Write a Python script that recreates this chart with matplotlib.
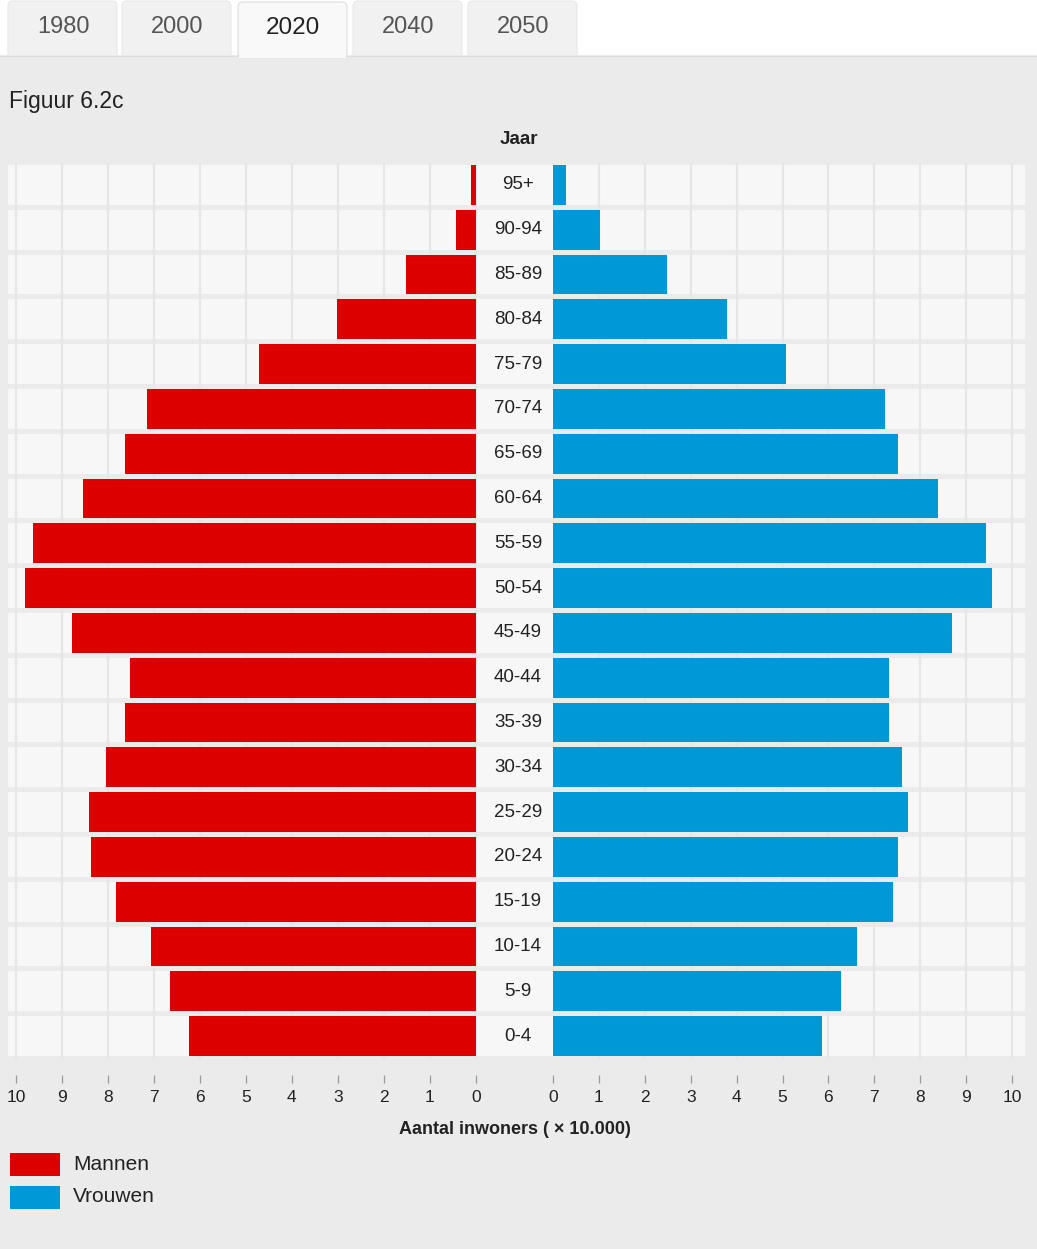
import matplotlib
matplotlib.use("Agg")
import matplotlib.pyplot as plt
from matplotlib.patches import Rectangle, FancyBboxPatch

plt.rcParams['font.family'] = ['Liberation Sans', 'DejaVu Sans']

# ---------------- data ----------------
age_groups = ["0-4", "5-9", "10-14", "15-19", "20-24", "25-29", "30-34", "35-39",
              "40-44", "45-49", "50-54", "55-59", "60-64", "65-69", "70-74",
              "75-79", "80-84", "85-89", "90-94", "95+"]
mannen = [6.24, 6.65, 7.07, 7.83, 8.37, 8.41, 8.04, 7.63, 7.52, 8.78,
          9.80, 9.63, 8.54, 7.63, 7.15, 4.72, 3.02, 1.52, 0.43, 0.10]
vrouwen = [5.86, 6.27, 6.62, 7.41, 7.52, 7.73, 7.60, 7.32, 7.32, 8.69,
           9.56, 9.43, 8.39, 7.52, 7.23, 5.08, 3.79, 2.48, 1.02, 0.28]
ticks = list(range(0, 11))
tabs = ["1980", "2000", "2020", "2040", "2050"]
active_tab = "2020"

# ---------------- style ----------------
W, H = 1037, 1249
BG = '#ebebeb'
BAND = '#f7f7f7'
GRID = '#e6e6e6'
RED = '#dd0000'
BLUE = '#0098d6'

fig = plt.figure(figsize=(W / 100, H / 100), dpi=100, facecolor=BG)


def px_axes(x0, y0, x1, y1, **kw):
    return fig.add_axes([x0 / W, 1 - y1 / H, (x1 - x0) / W, (y1 - y0) / H], **kw)


# overlay for page decorations (pixel coordinates)
ov = px_axes(0, 0, W, H, zorder=0)
ov.set_xlim(0, W)
ov.set_ylim(H, 0)
ov.axis('off')
ov.add_patch(Rectangle((0, 0), W, 55, facecolor='white', edgecolor='none', zorder=1))
tab_x = [8, 122, 238, 353, 468]
tab_w = 109
for name, x in zip(tabs, tab_x):
    if name == active_tab:
        continue
    ov.add_patch(FancyBboxPatch((x, 1), tab_w, 60, boxstyle="round,pad=0,rounding_size=5",
                                facecolor='#f1f1f1', edgecolor='#e9e9e9', lw=0.8, zorder=2))
    ov.text(x + tab_w / 2 + 1, 27, name, ha='center', va='center', fontsize=17,
            color='#555555', zorder=5)
ov.add_patch(Rectangle((0, 55), W, H - 55, facecolor=BG, edgecolor='none', zorder=3))
ov.plot([0, W], [55.5, 55.5], color='#dcdcdc', lw=0.8, zorder=3.5)
for name, x in zip(tabs, tab_x):
    if name != active_tab:
        continue
    ov.add_patch(FancyBboxPatch((x, 2), tab_w, 56, boxstyle="round,pad=0,rounding_size=5",
                                facecolor='#f9f9f9', edgecolor='#dddddd', lw=0.8, zorder=4))
    ov.add_patch(Rectangle((x + 0.6, 50), tab_w - 1.2, 8, facecolor='#f9f9f9',
                           edgecolor='none', zorder=4.5))
    ov.text(x + tab_w / 2, 28, name, ha='center', va='center', fontsize=17.5,
            color='#222222', zorder=5)

ov.text(9, 101, "Figuur 6.2c", ha='left', va='center', fontsize=16.5, color='#222222', zorder=5)
ov.text(519, 139, "Jaar", ha='center', va='center', fontsize=13.5, fontweight='bold',
        color='#222222', zorder=5)
ov.text(515, 1129, "Aantal inwoners ( \u00d7 10.000)", ha='center', va='center',
        fontsize=13, fontweight='bold', color='#222222', zorder=5)

# legend
ov.add_patch(Rectangle((10, 1153), 50, 23, facecolor=RED, edgecolor='none', zorder=5))
ov.add_patch(Rectangle((10, 1186), 50, 23, facecolor=BLUE, edgecolor='none', zorder=5))
ov.text(73, 1165, "Mannen", ha='left', va='center', fontsize=15, color='#222222', zorder=5)
ov.text(73, 1197, "Vrouwen", ha='left', va='center', fontsize=15, color='#222222', zorder=5)

# ---------------- chart ----------------
Y0, Y1 = 162.5, 1058.5
n = len(age_groups)
ypos = list(range(n))
bar_h = 0.886

# background bands spanning the whole width
bg = px_axes(8, Y0, 1025, Y1, zorder=1)
bg.set_xlim(8, 1025)
bg.set_ylim(-0.5, n - 0.5)
bg.axis('off')
bg.barh(ypos, [1017] * n, left=8, height=bar_h, color=BAND, edgecolor='none')
for y, lab in zip(ypos, age_groups):
    bg.text(518, y, lab, ha='center', va='center', fontsize=13.5, color='#222222')

axL = px_axes(8, Y0, 479, Y1, zorder=2)
axR = px_axes(553, Y0, 1025, Y1, zorder=2)
axL.set_xlim(10.17, -0.07)
axR.set_xlim(0, 472 / 45.9)

axL.barh(ypos, mannen, height=bar_h, color=RED, edgecolor='none', zorder=3)
axR.barh(ypos, vrouwen, height=bar_h, color=BLUE, edgecolor='none', zorder=3)

for ax in (axL, axR):
    ax.set_facecolor('none')
    ax.set_ylim(-0.5, n - 0.5)
    ax.set_yticks([])
    ax.set_xticks(ticks)
    ax.set_xticklabels([str(t) for t in ticks])
    ax.set_axisbelow(True)
    ax.grid(axis='x', color=GRID, lw=1.6)
    ax.grid(axis='y', visible=False)
    for s in ('top', 'left', 'right'):
        ax.spines[s].set_visible(False)
    ax.spines['bottom'].set_position(('outward', 12))
    ax.spines['bottom'].set_visible(False)
    ax.tick_params(axis='x', direction='out', length=5.5, width=0.9, color='#9a9a9a',
                   pad=5, labelsize=12.5, labelcolor='#222222')

fig.savefig("out.png", dpi=100, facecolor=BG)
